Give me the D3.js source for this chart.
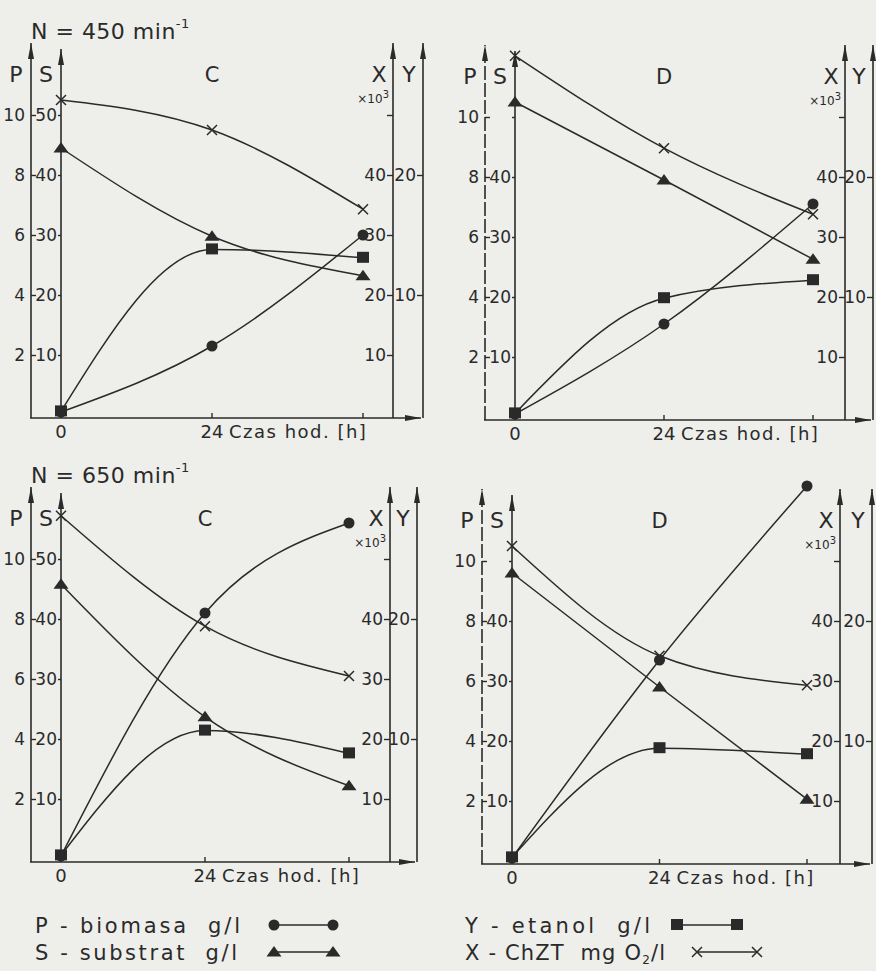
<!DOCTYPE html>
<html>
<head>
<meta charset="utf-8">
<script src="https://cdn.jsdelivr.net/npm/d3@7"></script>
<style>
    body { margin: 0; background: #eeeeea; }
    svg { display: block; }
    text { font-family: "DejaVu Sans", sans-serif; fill: #2a2a2a; }
</style>
</head>
<body>
<div id="chart"></div>
<script>
// time points [h]
const hours = [0, 24, 48]

// N = 450 min-1, variant C
const p450C = [0.1, 2.3, 6.0]
const s450C = [44.5, 29.8, 23.2]
const y450C = [0.3, 13.8, 13.1]
const x450C = [52.5, 47.5, 34.3]

// N = 450 min-1, variant D
const p450D = [0.1, 3.1, 7.1]
const s450D = [52.5, 39.5, 26.3]
const y450D = [0.3, 9.9, 11.4]
const x450D = [60.2, 44.8, 33.8]

// N = 650 min-1, variant C
const p650C = [0.1, 8.2, 11.2]
const s650C = [45.8, 23.7, 12.2]
const y650C = [0.3, 10.7, 8.8]
const x650C = [57.2, 38.8, 30.5]

// N = 650 min-1, variant D
const p650D = [0.1, 6.7, 12.5]
const s650D = [48.0, 29.0, 10.3]
const y650D = [0.3, 9.4, 8.9]
const x650D = [52.5, 34.2, 29.3]

// axis ticks
const pTicks = [2, 4, 6, 8, 10]
const sTicks = [10, 20, 30, 40, 50]
const xTicks = [10, 20, 30, 40, 50]
const yTicks = [10, 20]

const legendItems = [
    { key: "P", label: "P - biomasa  g/l" },
    { key: "S", label: "S - substrat  g/l" },
    { key: "Y", label: "Y - etanol  g/l" },
    { key: "X", label: "X - ChZT  mg O" }
]

const ink = "#2a2a2a"
const width = 876, height = 971

const svg = d3.select("#chart")
    .append("svg")
    .attr("width", width)
    .attr("height", height)

svg.append("rect").attr("width", width).attr("height", height).attr("fill", "#eeeeea")

const defs = svg.append("defs")
defs.append("marker")
    .attr("id", "arrow")
    .attr("viewBox", "0 0 16 7")
    .attr("preserveAspectRatio", "none")
    .attr("refX", 16).attr("refY", 3.5)
    .attr("markerWidth", 16).attr("markerHeight", 7)
    .attr("markerUnits", "userSpaceOnUse")
    .attr("orient", "auto")
    .append("path")
    .attr("d", "M0,0.5 L16,3.5 L0,6.5 Z")
    .attr("fill", ink)

// panel layout (axis positions in page pixels)
const panels = [
    { title: "N = 450 min", letter: "C", pX: 31, sX: 61, endX: 363, xX: 393, yX: 423, zero: 415,
      P: p450C, S: s450C, Y: y450C, X: x450C, s50: true },
    { title: null, letter: "D", pX: 485, sX: 515, endX: 813, xX: 845, yX: 873, zero: 417,
      P: p450D, S: s450D, Y: y450D, X: x450D, s50: false },
    { title: "N = 650 min", letter: "C", pX: 31, sX: 61, endX: 349, xX: 390, yX: 417, zero: 859,
      P: p650C, S: s650C, Y: y650C, X: x650C, s50: true },
    { title: null, letter: "D", pX: 482, sX: 512, endX: 807, xX: 840, yX: 872, zero: 861,
      P: p650D, S: s650D, Y: y650D, X: x650D, s50: false }
]

function drawMarker(g, type, cx, cy) {
    if (type === "P") {
        g.append("circle").attr("cx", cx).attr("cy", cy).attr("r", 5.5).attr("fill", ink)
    } else if (type === "S") {
        g.append("path")
            .attr("d", `M${cx - 7.5},${cy + 4.5} L${cx},${cy - 6} L${cx + 7.5},${cy + 4.5} Z`)
            .attr("fill", ink)
    } else if (type === "Y") {
        g.append("rect").attr("x", cx - 6).attr("y", cy - 6).attr("width", 12).attr("height", 11).attr("fill", ink)
    } else {
        g.append("path")
            .attr("d", `M${cx - 5},${cy - 5} L${cx + 5},${cy + 5} M${cx - 5},${cy + 5} L${cx + 5},${cy - 5}`)
            .attr("stroke", ink).attr("stroke-width", 1.5)
    }
}

panels.forEach((pn) => {
    const g = svg.append("g")
    const top = pn.zero - 372

    const t = d3.scaleLinear().domain([0, 48]).range([pn.sX, pn.endX])
    const pScale = d3.scaleLinear().domain([0, 10]).range([pn.zero, pn.zero - 300])
    const sScale = d3.scaleLinear().domain([0, 50]).range([pn.zero, pn.zero - 300])
    const yScale = d3.scaleLinear().domain([0, 20]).range([pn.zero, pn.zero - 240])

    // vertical axis lines with arrows
    const axisLine = (x, y1) => g.append("line")
        .attr("x1", x).attr("x2", x).attr("y1", pn.zero + 3).attr("y2", y1)
        .attr("stroke", ink).attr("stroke-width", 1.6)
        .attr("marker-end", "url(#arrow)")
    axisLine(pn.pX, top).attr("stroke-dasharray", pn.s50 ? null : "14,3")
    axisLine(pn.sX, top + 6)
    axisLine(pn.xX, top)
    axisLine(pn.yX, top)

    // time baseline
    g.append("line")
        .attr("x1", pn.pX - 1).attr("x2", pn.yX - 2)
        .attr("y1", pn.zero + 3).attr("y2", pn.zero + 3)
        .attr("stroke", ink).attr("stroke-width", 1.6)
        .attr("marker-end", "url(#arrow)")

    // tick axes
    const styleAxis = (sel) => {
        sel.select(".domain").remove()
        sel.selectAll("line").attr("stroke", ink).attr("stroke-width", 1.4)
        sel.selectAll("text").style("font-size", "17px").attr("fill", ink)
    }
    g.append("g").attr("transform", `translate(${pn.pX},0)`)
        .call(d3.axisLeft(pScale).tickValues(pTicks).tickSize(-5).tickPadding(6).tickFormat(d3.format("d")))
        .call(styleAxis)
    g.append("g").attr("transform", `translate(${pn.sX},0)`)
        .call(d3.axisLeft(sScale).tickValues(sTicks).tickSize(3).tickPadding(1)
            .tickFormat((d) => (d === 50 && !pn.s50) ? "" : d))
        .call(styleAxis)
    g.append("g").attr("transform", `translate(${pn.xX},0)`)
        .call(d3.axisLeft(sScale).tickValues(xTicks).tickSize(6).tickPadding(1)
            .tickFormat((d) => d === 50 ? "" : d))
        .call(styleAxis)
    g.append("g").attr("transform", `translate(${pn.yX},0)`)
        .call(d3.axisLeft(yScale).tickValues(yTicks).tickSize(6).tickPadding(1))
        .call(styleAxis)

    // time ticks and labels
    g.selectAll(".tt").data(hours.slice(1)).enter()
        .append("line")
        .attr("x1", (d) => t(d)).attr("x2", (d) => t(d))
        .attr("y1", pn.zero - 2).attr("y2", pn.zero + 3)
        .attr("stroke", ink).attr("stroke-width", 1.4)
    g.append("text").attr("x", t(0)).attr("y", pn.zero + 23)
        .attr("text-anchor", "middle").style("font-size", "18px").text("0")
    g.append("text").attr("x", t(24)).attr("y", pn.zero + 23)
        .attr("text-anchor", "middle").style("font-size", "18px").text("24")
    g.append("text").attr("x", t(24) + 17).attr("y", pn.zero + 23)
        .style("font-size", "18px").attr("letter-spacing", 1.5).text("Czas hod. [h]")

    // axis names
    const nameY = pn.zero - 333
    const name = (x, s, size) => g.append("text").attr("x", x).attr("y", nameY)
        .attr("text-anchor", "middle").style("font-size", size + "px").text(s)
    name(pn.pX - 15, "P", 22)
    name(pn.pX + 15, "S", 22)
    name((pn.sX + pn.endX) / 2, pn.letter, 21)
    name(pn.xX - 14, "X", 22)
    name(pn.yX - 14, "Y", 22)
    const mult = g.append("text").attr("x", pn.xX - 4).attr("y", pn.zero - 312)
        .attr("text-anchor", "end").style("font-size", "12px").text("×10")
    mult.append("tspan").attr("dy", -5).style("font-size", "10px").text("3")

    // title
    if (pn.title) {
        const tt = g.append("text").attr("x", pn.pX).attr("y", pn.zero - 376)
            .style("font-size", "22px").attr("letter-spacing", 0.5).text(pn.title)
        tt.append("tspan").attr("dy", -11).style("font-size", "13px").text("-1")
    }

    // series
    const series = [
        { key: "P", vals: pn.P, scale: pScale },
        { key: "S", vals: pn.S, scale: sScale },
        { key: "Y", vals: pn.Y, scale: yScale },
        { key: "X", vals: pn.X, scale: sScale }
    ]
    series.forEach((s) => {
        const line = d3.line()
            .x((d, i) => t(hours[i]))
            .y((d) => s.scale(d))
            .curve(d3.curveMonotoneX)
        g.append("path")
            .attr("d", line(s.vals))
            .attr("fill", "none")
            .attr("stroke", ink)
            .attr("stroke-width", 1.5)
        s.vals.forEach((v, i) => drawMarker(g, s.key, t(hours[i]), s.scale(v)))
    })
})

// legend
const legendPos = [
    { x: 35, y: 925, x1: 274, x2: 333, len: 205 },
    { x: 35, y: 952, x1: 274, x2: 333, len: 202 },
    { x: 465, y: 925, x1: 677, x2: 737, len: 185 },
    { x: 465, y: 952, x1: 697, x2: 757, len: 200 }
]
legendItems.forEach((item, i) => {
    const pos = legendPos[i]
    const lg = svg.append("g")
    const txt = lg.append("text").attr("x", pos.x).attr("y", pos.y + 8)
        .attr("textLength", pos.len).attr("lengthAdjust", "spacing")
        .style("font-size", "21px").style("white-space", "pre").text(item.label)
    if (item.key === "X") {
        txt.append("tspan").attr("dy", 4).style("font-size", "12px").text("2")
        txt.append("tspan").attr("dy", -4).text("/l")
    }
    lg.append("line")
        .attr("x1", pos.x1).attr("x2", pos.x2).attr("y1", pos.y).attr("y2", pos.y)
        .attr("stroke", ink).attr("stroke-width", 1.5)
    drawMarker(lg, item.key, pos.x1, pos.y)
    drawMarker(lg, item.key, pos.x2, pos.y)
})
</script>
</body>
</html>
